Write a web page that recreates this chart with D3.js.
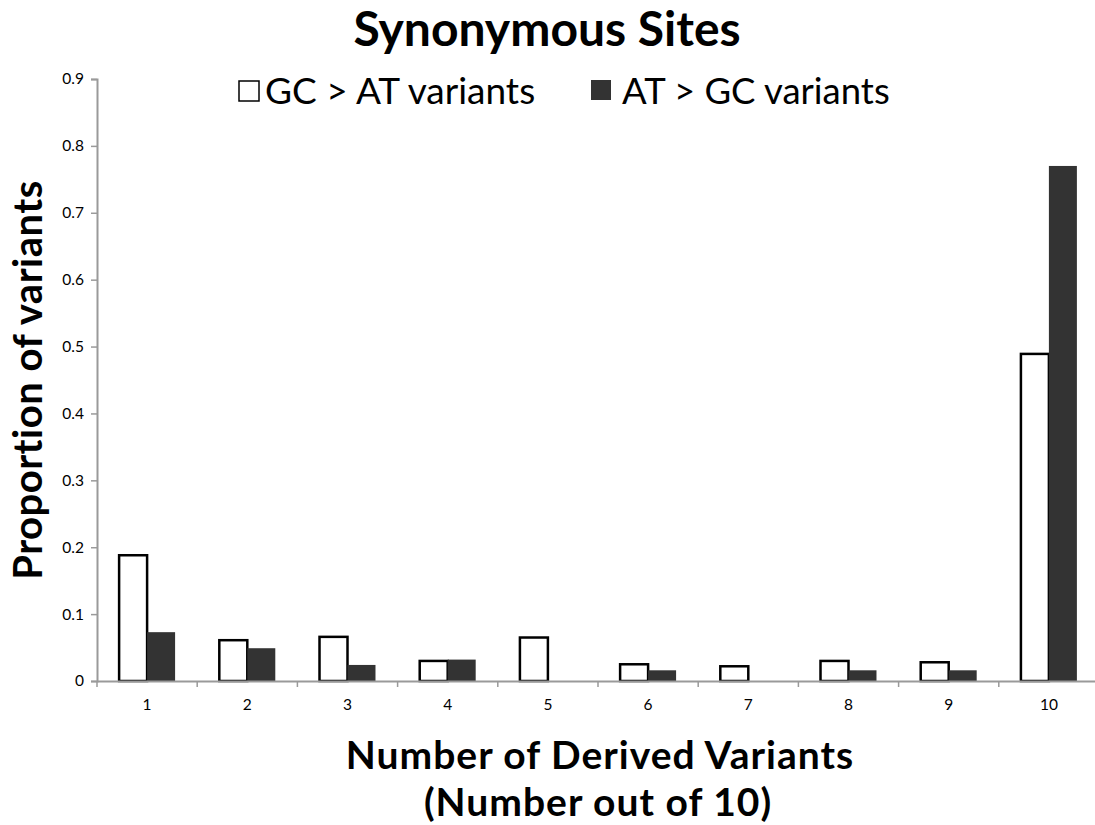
<!DOCTYPE html>
<html>
<head>
<meta charset="utf-8">
<script src="https://cdn.jsdelivr.net/npm/d3@7"></script>
<style>
  body { margin: 0; background: #fff; }
  svg { display: block; font-family: Lato, "Open Sans", sans-serif; }
</style>
</head>
<body>
<div id="chart"></div>
<script>
// données
const categories = ["1", "2", "3", "4", "5", "6", "7", "8", "9", "10"];
const gcToAt = [0.188, 0.061, 0.066, 0.030, 0.065, 0.025, 0.022, 0.030, 0.028, 0.489];
const atToGc = [0.073, 0.049, 0.024, 0.032, 0, 0.016, 0, 0.016, 0.016, 0.770];
const yTicks = [0, 0.1, 0.2, 0.3, 0.4, 0.5, 0.6, 0.7, 0.8, 0.9];
const seriesNames = ["GC > AT variants", "AT > GC variants"];

const W = 1095, H = 825;
const margin = {top: 79, right: -4, bottom: 144, left: 97};
const axisColor = "#9a9a9a";
const dark = "#333333";
const font = "Lato";

const svg = d3.select("#chart").append("svg")
  .attr("width", W).attr("height", H);

const x = d3.scaleBand()
  .domain(categories)
  .range([margin.left, W - margin.right]);

// deux barres de ~28px centrées dans chaque catégorie
const inner = d3.scaleBand()
  .domain(seriesNames)
  .range([0, x.bandwidth()])
  .paddingOuter(0.79)
  .paddingInner(0);

const y = d3.scaleLinear()
  .domain([0, 0.9])
  .range([H - margin.bottom, margin.top]);

// axe Y
const yAxis = svg.append("g")
  .attr("transform", `translate(${margin.left},0)`)
  .call(d3.axisLeft(y).tickValues(yTicks).tickSize(6).tickPadding(7)
    .tickFormat(d => d === 0 ? "0" : d3.format(".1f")(d)));
yAxis.select(".domain").attr("stroke", axisColor).attr("stroke-width", 2);
yAxis.selectAll(".tick line").attr("stroke", axisColor).attr("stroke-width", 1.5);
yAxis.selectAll(".tick text").attr("font-size", 15.5).attr("fill", "#000")
  .attr("font-family", font);

// barres
const groups = svg.append("g")
  .selectAll("g")
  .data(categories)
  .join("g")
  .attr("transform", d => `translate(${x(d)},0)`);

groups.append("rect")
  .attr("x", inner(seriesNames[0]))
  .attr("width", inner.bandwidth())
  .attr("y", (d, i) => y(gcToAt[i]))
  .attr("height", (d, i) => y(0) - y(gcToAt[i]))
  .attr("fill", "#fff")
  .attr("stroke", "#000")
  .attr("stroke-width", 2.5);

groups.append("rect")
  .attr("x", inner(seriesNames[1]))
  .attr("width", inner.bandwidth())
  .attr("y", (d, i) => y(atToGc[i]))
  .attr("height", (d, i) => y(0) - y(atToGc[i]))
  .attr("fill", dark);

// axe X
const xAxis = svg.append("g")
  .attr("transform", `translate(0,${y(0)})`)
  .call(d3.axisBottom(x).tickSize(0).tickPadding(18));
xAxis.select(".domain").attr("stroke", axisColor).attr("stroke-width", 2);
xAxis.selectAll(".tick text").attr("font-size", 15.5).attr("fill", "#000")
  .attr("font-family", font);
// petits traits entre les catégories
xAxis.selectAll(".sep")
  .data(categories)
  .join("line")
  .attr("class", "sep")
  .attr("x1", d => x(d)).attr("x2", d => x(d))
  .attr("y1", 0).attr("y2", 6)
  .attr("stroke", axisColor).attr("stroke-width", 1.5);

// titre
svg.append("text")
  .attr("x", 547).attr("y", 46)
  .attr("text-anchor", "middle")
  .attr("font-size", 48).attr("font-weight", "bold")
  .text("Synonymous Sites");

// légende
const legend = svg.append("g");
legend.append("rect")
  .attr("x", 239).attr("y", 81).attr("width", 20).attr("height", 20)
  .attr("fill", "#fff").attr("stroke", "#000").attr("stroke-width", 1.5);
legend.append("text")
  .attr("x", 265).attr("y", 104)
  .attr("font-size", 37)
  .text(seriesNames[0]);
legend.append("rect")
  .attr("x", 591).attr("y", 80).attr("width", 20).attr("height", 20)
  .attr("fill", dark);
legend.append("text")
  .attr("x", 622).attr("y", 104)
  .attr("font-size", 36.5)
  .text(seriesNames[1]);

// titres des axes
svg.append("text")
  .attr("transform", "translate(42,380) rotate(-90)")
  .attr("text-anchor", "middle")
  .attr("font-size", 40).attr("font-weight", "bold")
  .attr("letter-spacing", 0.5)
  .text("Proportion of variants");

svg.append("text")
  .attr("x", 600).attr("y", 769)
  .attr("text-anchor", "middle")
  .attr("font-size", 39).attr("font-weight", "bold")
  .attr("letter-spacing", 1)
  .text("Number of Derived Variants");
svg.append("text")
  .attr("x", 598).attr("y", 816)
  .attr("text-anchor", "middle")
  .attr("font-size", 39).attr("font-weight", "bold")
  .attr("letter-spacing", 1)
  .text("(Number out of 10)");
</script>
</body>
</html>
